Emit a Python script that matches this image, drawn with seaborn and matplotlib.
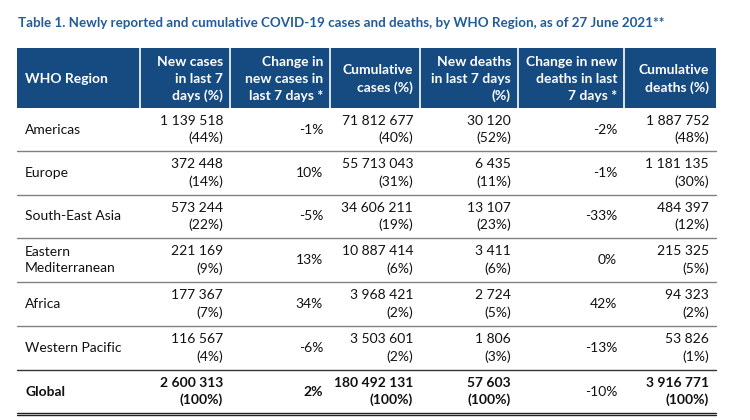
import matplotlib
matplotlib.use("Agg")
import matplotlib.pyplot as plt
import seaborn as sns

# table data
title = "Table 1. Newly reported and cumulative COVID-19 cases and deaths, by WHO Region, as of 27 June 2021**"
headers = ["WHO Region", "New cases\nin last 7\ndays (%)", "Change in\nnew cases in\nlast 7 days *",
           "Cumulative\ncases (%)", "New deaths\nin last 7 days\n(%)", "Change in new\ndeaths in last\n7 days *",
           "Cumulative\ndeaths (%)"]
regions = ["Americas", "Europe", "South-East Asia", "Eastern\nMediterranean", "Africa", "Western Pacific", "Global"]
new_cases = [1139518, 372448, 573244, 221169, 177367, 116567, 2600313]
new_cases_pct = [44, 14, 22, 9, 7, 4, 100]
change_cases = [-1, 10, -5, 13, 34, -6, 2]
cum_cases = [71812677, 55713043, 34606211, 10887414, 3968421, 3503601, 180492131]
cum_cases_pct = [40, 31, 19, 6, 2, 2, 100]
new_deaths = [30120, 6435, 13107, 3411, 2724, 1806, 57603]
new_deaths_pct = [52, 11, 23, 6, 5, 3, 100]
change_deaths = [-2, -1, -33, 0, 42, -13, -10]
cum_deaths = [1887752, 1181135, 484397, 215325, 94323, 53826, 3916771]
cum_deaths_pct = [48, 30, 12, 5, 2, 1, 100]


def fmt(n):
    return f"{n:,}".replace(",", " ")


sns.set_theme(style="white")
plt.rcParams["font.family"] = ["Lato", "DejaVu Sans"]

blue = "#164B82"
fig = plt.figure(figsize=(7.5, 4.2), dpi=100)
ax = fig.add_axes([0, 0, 1, 1])
ax.set_xlim(0, 750)
ax.set_ylim(420, 0)
ax.axis("off")

ax.text(18, 23, title, color="#1F5C99", fontsize=9.6, fontweight="bold", va="center", ha="left")

# column edges
edges = [17, 140, 230, 330, 420, 518, 624, 716]
ax.add_patch(plt.Rectangle((edges[0], 48), edges[-1] - edges[0], 60, color=blue, lw=0))
for x in edges[1:-1]:
    ax.plot([x, x], [48, 108], color="white", lw=1.2)

fs = 10
ax.text(25, 79, headers[0], color="white", fontsize=fs, fontweight="bold", va="center", ha="left")
for i, h in enumerate(headers[1:], start=1):
    ax.text(edges[i + 1] - 7, 79, h, color="white", fontsize=fs, fontweight="bold",
            va="center", ha="right", multialignment="right", linespacing=1.45)

row_edges = [108, 151, 195, 238, 282, 326, 370, 413]
for r, name in enumerate(regions):
    top, bot = row_edges[r], row_edges[r + 1]
    cy = (top + bot) / 2
    w = "bold" if name == "Global" else "normal"
    kw = dict(fontsize=fs, fontweight=w, color="#111111", va="center", linespacing=1.5)
    ax.text(25, cy, name, ha="left", **kw)
    ax.text(edges[2] - 7, cy, f"{fmt(new_cases[r])}\n({new_cases_pct[r]}%)", ha="right", multialignment="right", **kw)
    ax.text(edges[3] - 7, cy, f"{change_cases[r]}%", ha="right", **kw)
    ax.text(edges[4] - 7, cy, f"{fmt(cum_cases[r])}\n({cum_cases_pct[r]}%)", ha="right", multialignment="right", **kw)
    ax.text(edges[5] - 7, cy, f"{fmt(new_deaths[r])}\n({new_deaths_pct[r]}%)", ha="right", multialignment="right", **kw)
    kw["fontweight"] = "normal"
    ax.text(edges[6] - 7, cy, f"{change_deaths[r]}%", ha="right", **kw)
    kw["fontweight"] = w
    ax.text(edges[7] - 7, cy, f"{fmt(cum_deaths[r])}\n({cum_deaths_pct[r]}%)", ha="right", multialignment="right", **kw)
    if r < len(regions) - 2:
        ax.plot([edges[0], edges[-1]], [bot, bot], color="#808080", lw=1)
    elif r == len(regions) - 2:
        ax.plot([edges[0], edges[-1]], [bot, bot], color="#333333", lw=1)

ax.plot([edges[0], edges[-1]], [412.5, 412.5], color="#222222", lw=1)
ax.plot([edges[0], edges[-1]], [415, 415], color="#222222", lw=1)

fig.savefig("out.png", dpi=100, facecolor="white")
